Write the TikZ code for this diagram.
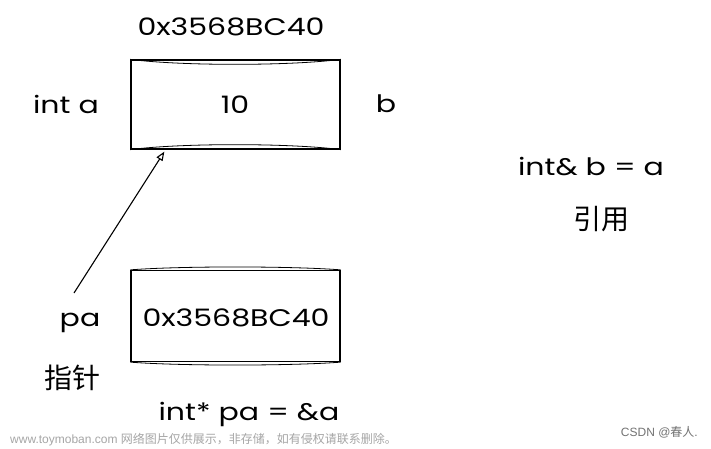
\documentclass[tikz,border=0pt]{standalone}
\usepackage{fontspec}
\newfontfamily\handfont[FakeStretch=1.25]{Poppins}
\newfontfamily\cjk{Noto Sans CJK SC}
\newfontfamily\wm{Liberation Sans}
\usetikzlibrary{calc,arrows.meta}
\begin{document}
\begin{tikzpicture}[x=1pt,y=-1pt,
  hand/.style={font=\handfont\fontsize{24}{27}\selectfont, text=black, inner sep=0pt},
  cjktext/.style={font=\cjk\fontsize{28}{30}\selectfont, text=black, inner sep=0pt},
  memcell/.style={draw=black, line width=1.3pt, minimum width=209pt, minimum height=89pt, inner sep=0pt},
  wmark/.style={font=\wm\fontsize{12}{14}\selectfont, text=black!35, inner sep=0pt},
  ptrarrow/.style={line width=1.1pt, -{Triangle[open, length=9pt, width=7pt]}}]
\useasboundingbox (0,0) rectangle (711,449);
\fill[white] (0,0) rectangle (711,449);

\node[memcell] (boxa) at (235.5,104.5) {};
\node[memcell, minimum height=91pt] (boxp) at (235.5,316) {};
% sketchy second strokes
\draw[line width=0.8pt] (boxa.north west) .. controls (180,66) and (290,66) .. (boxa.north east);
\draw[line width=0.8pt] (boxa.south west) .. controls (180,143) and (290,143) .. (boxa.south east);
\draw[line width=0.8pt] (boxp.north west) .. controls (180,266) and (290,266) .. (boxp.north east);
\draw[line width=0.8pt] (boxp.south west) .. controls (180,366) and (290,366) .. (boxp.south east);

\node[hand] (addr) at (231,27) {0x3568BC40};
\node[hand] (ten) at (235,105) {10};
\node[hand] (inta) at (66,104) {int a};
\node[hand] (bname) at (386,104) {b};
\node[hand] (pval) at (236,318) {0x3568BC40};
\node[hand] (pa) at (80,323) {pa};
\node[cjktext] (zhizhen) at (72,378) {指针};
\node[hand] (ptrdecl) at (249,414) {int* pa = \&a};
\node[hand] (refdecl) at (591,167) {int\& b = a};
\node[cjktext] (yinyong) at (601,219) {引用};

\coordinate (pstart) at (74,293);
\draw[ptrarrow] (pstart) -- ($(boxa.south west)+(34,2)$);

\node[wmark, anchor=west] (wm1) at (10,440) {www.toymoban.com {\cjk 网络图片仅供展示，非存储，如有侵权请联系删除。}};
\node[wmark, anchor=east, text=black!55] (wm2) at (698,432) {CSDN @{\cjk 春人}.};
\end{tikzpicture}
\end{document}
